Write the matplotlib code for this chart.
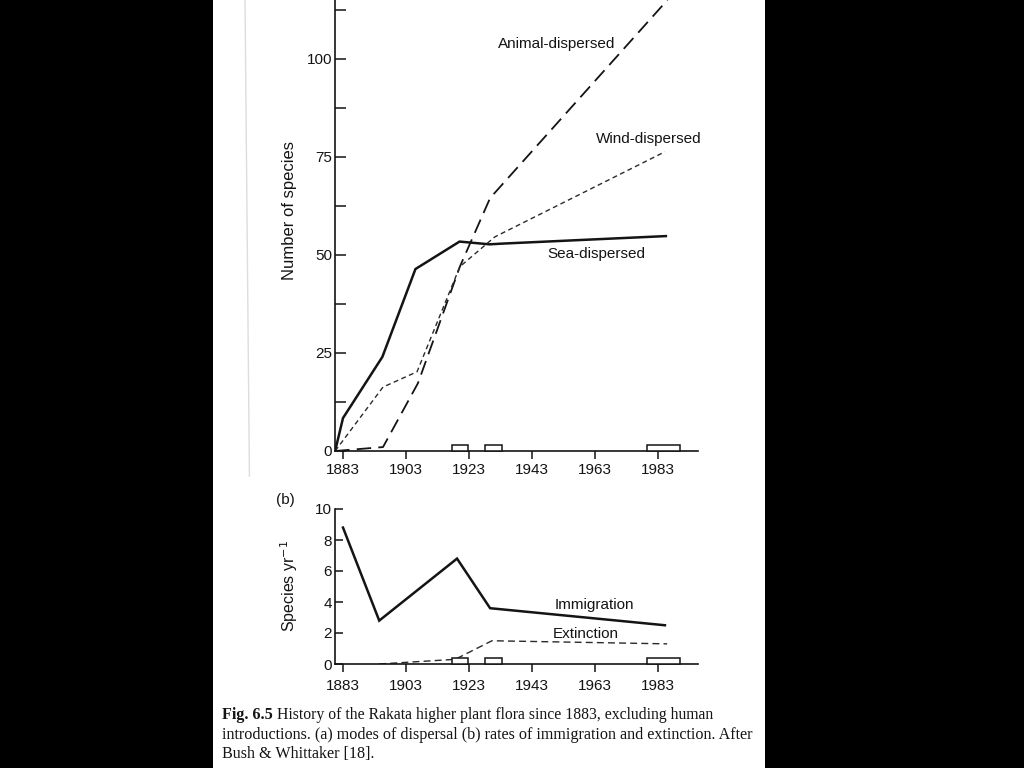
import matplotlib
matplotlib.use("Agg")
import matplotlib.pyplot as plt
from matplotlib.patches import Rectangle

plt.rcParams['font.family'] = ['Liberation Sans', 'DejaVu Sans']

# (a) modes of dispersal
sea_years = [1880.5, 1883, 1895.5, 1906, 1920, 1929.5, 1934, 1985.5]
sea_vals = [0, 8.4, 24, 46.4, 53.4, 52.7, 52.9, 54.8]
animal_years = [1880.5, 1895.7, 1906.8, 1920.1, 1929.7, 1986]
animal_vals = [0, 1, 17.3, 47, 64.5, 115]
wind_years = [1880.5, 1895.7, 1906.5, 1920.1, 1931.2, 1985.2]
wind_vals = [0, 16.3, 20.2, 47, 54.6, 76.3]

# (b) rates
imm_years = [1883, 1894.5, 1919.2, 1929.7, 1985.2]
imm_vals = [8.8, 2.8, 6.8, 3.6, 2.5]
ext_years = [1894.5, 1918.6, 1930.3, 1985.9]
ext_vals = [0, 0.3, 1.5, 1.3]

# survey periods (boxes on the time axis)
survey_start = [1917.6, 1928.1, 1979.5]
survey_end = [1922.7, 1933.5, 1990]

xticks = [1883, 1903, 1923, 1943, 1963, 1983]

ink = '#141414'
W, H = 1024, 768
fig = plt.figure(figsize=(W / 100, H / 100), dpi=100, facecolor='black')

# white page
page = fig.add_axes([213 / W, 0, (765 - 213) / W, 1])
page.set_facecolor('white')
page.set_xticks([]); page.set_yticks([])
for s in page.spines.values():
    s.set_visible(False)
page.plot([0.058, 0.066], [1.0, 0.38], color='#dddddd', lw=1)
page.set_xlim(0, 1); page.set_ylim(0, 1)

xlim = (1880.46, 1995.7)
left, right = 335, 698


def style(ax, ylen):
    ax.set_facecolor('none')
    ax.spines['top'].set_visible(False)
    ax.spines['right'].set_visible(False)
    for s in ('left', 'bottom'):
        ax.spines[s].set_color(ink)
        ax.spines[s].set_linewidth(1.2)
    ax.set_xlim(*xlim)
    ax.set_xticks(xticks)
    ax.tick_params(axis='both', which='both', color=ink, labelcolor=ink,
                   labelsize=11, width=1.1)
    ax.tick_params(axis='y', which='both', direction='in', length=ylen, pad=2)
    ax.tick_params(axis='x', direction='out', length=6, pad=3)


def boxes(ax, h):
    for a, b in zip(survey_start, survey_end):
        ax.add_patch(Rectangle((a, 0), b - a, h, facecolor='white',
                               edgecolor=ink, lw=1.1, zorder=4, clip_on=False))


# ---- panel (a)
ax1 = fig.add_axes([left / W, 1 - 451 / H, (right - left) / W, 451 / H])
style(ax1, 8)
ax1.set_ylim(0, 115)
ax1.set_yticks([0, 25, 50, 75, 100])
ax1.set_yticks([12.5, 37.5, 62.5, 87.5, 112.5], minor=True)
ax1.plot(sea_years, sea_vals, color=ink, lw=1.8, solid_joinstyle='miter')
ax1.plot(animal_years, animal_vals, color=ink, lw=1.3, dashes=(8, 4))
ax1.plot(wind_years, wind_vals, color='#2a2a2a', lw=1.0, dashes=(3.5, 2.5))
boxes(ax1, 1.5)
ax1.text(1950.9, 103.8, 'Animal-dispersed', fontsize=11, color=ink, ha='center', va='center')
ax1.text(1980.1, 79.6, 'Wind-dispersed', fontsize=11, color=ink, ha='center', va='center')
ax1.text(1963.3, 50.3, 'Sea-dispersed', fontsize=11, color=ink, ha='center', va='center')
ax1.set_ylabel('Number of species', fontsize=12, color=ink)
ax1.yaxis.set_label_coords((297 - left) / (right - left), (451 - 210) / 451)

# ---- panel (b)
ax2 = fig.add_axes([left / W, 1 - 664 / H, (right - left) / W, 155 / H])
style(ax2, 6)
ax2.tick_params(axis='x', pad=5)
ax2.set_ylim(0, 10)
ax2.set_yticks([0, 2, 4, 6, 8, 10])
ax2.plot(imm_years, imm_vals, color=ink, lw=1.8, solid_joinstyle='miter')
ax2.plot(ext_years, ext_vals, color='#2a2a2a', lw=1.0, dashes=(5, 3))
boxes(ax2, 0.4)
ax2.text(1962.7, 3.8, 'Immigration', fontsize=11, color=ink, ha='center', va='center')
ax2.text(1960.1, 1.95, 'Extinction', fontsize=11, color=ink, ha='center', va='center')
ax2.set_ylabel('Species yr$^{-1}$', fontsize=11.5, color=ink)
ax2.yaxis.set_label_coords((300 - left) / (right - left), (664 - 586) / 155)
fig.text(285 / W, 1 - 500 / H, '(b)', fontsize=11, color=ink, ha='center', va='center')

# ---- caption
serif = ['Liberation Serif', 'DejaVu Serif']
cap_size = 11.6
x0 = 222 / W
lab = fig.text(x0, 1 - 715 / H, 'Fig. 6.5', fontsize=cap_size, family=serif,
               weight='bold', color=ink, va='center')
fig.canvas.draw()
bb = lab.get_window_extent()
fig.text(bb.x1 / W + 4 / W, 1 - 715 / H,
         'History of the Rakata higher plant flora since 1883, excluding human',
         fontsize=11.3, family=serif, color=ink, va='center')
fig.text(x0, 1 - 735 / H,
         'introductions. (a) modes of dispersal (b) rates of immigration and extinction. After',
         fontsize=cap_size, family=serif, color=ink, va='center')
fig.text(x0, 1 - 754 / H, 'Bush & Whittaker [18].',
         fontsize=cap_size, family=serif, color=ink, va='center')

fig.savefig('out.png', dpi=100, facecolor='black')
